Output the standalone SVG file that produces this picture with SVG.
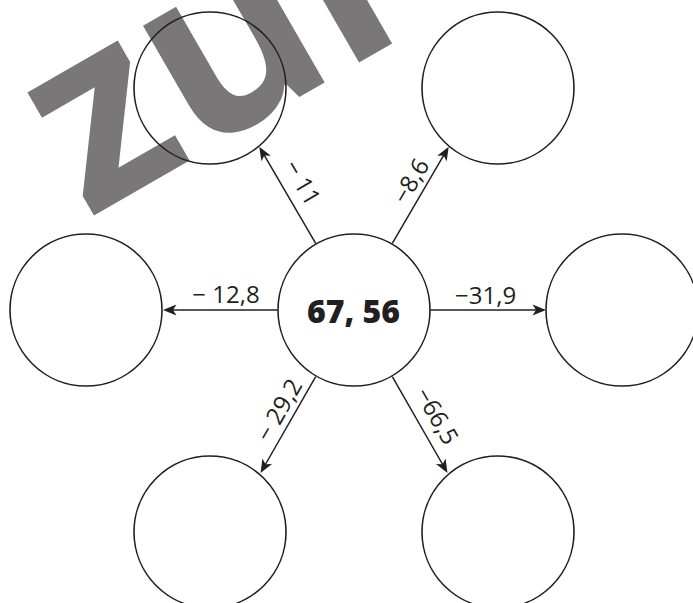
<svg xmlns="http://www.w3.org/2000/svg" width="693" height="603" viewBox="0 0 693 603">
<style>
.node{fill:none;stroke:#231f20;stroke-width:1.6}
.conn{stroke:#231f20;stroke-width:1.5;fill:none;marker-end:url(#ah)}
.lbl{font-family:"Open Sans","Noto Sans",sans-serif;font-size:24px;fill:#231f20;text-anchor:middle}
.big{font-family:"Open Sans","Noto Sans",sans-serif;font-size:32px;font-weight:800;fill:#231f20;text-anchor:middle}
.wm{font-family:"Open Sans","Noto Sans",sans-serif;font-size:256px;font-weight:700;fill:#797778}
</style>
<defs>
<marker id="ah" markerUnits="userSpaceOnUse" viewBox="-10 -6 15 12" markerWidth="15" markerHeight="12" refX="0" refY="0" orient="auto" overflow="visible">
<path d="M4,0 L-9.5,-5.5 L-6,0 L-9.5,5.5 Z" fill="#231f20"/>
</marker>
</defs>
<rect width="693" height="603" fill="#ffffff"/>
<g id="watermark">
<text class="wm" transform="translate(88,219) rotate(-30)">zur</text>
</g>
<g id="connectors">
<line class="conn" x1="315.7" y1="243.3" x2="261.3" y2="150.2"/>
<line class="conn" x1="392.3" y1="243.3" x2="446.7" y2="150.2"/>
<line class="conn" x1="277.7" y1="310" x2="167" y2="310"/>
<line class="conn" x1="430.3" y1="310" x2="542" y2="310"/>
<line class="conn" x1="315.7" y1="376.7" x2="262.5" y2="469.5"/>
<line class="conn" x1="392.3" y1="376.7" x2="445.5" y2="469.5"/>
<text class="lbl" transform="translate(302.5,182.5) rotate(59.7)" y="8.5">− 11</text>
<text class="lbl" transform="translate(410.8,181) rotate(-59.7)" y="8.5">−8,6</text>
<text class="lbl" x="226" y="303">− 12,8</text>
<text class="lbl" x="485.6" y="304">−31,9</text>
<text class="lbl" transform="translate(279,410) rotate(-60)" y="8.5">− 29,2</text>
<text class="lbl" transform="translate(437,416) rotate(60)" y="8.5">−66,5</text>
</g>
<g id="center"><circle class="node" cx="354" cy="310" r="76"/><text class="big" x="353.5" y="323">67, 56</text></g>
<g id="top-left"><circle class="node" cx="210" cy="88" r="76"/></g>
<g id="top-right"><circle class="node" cx="498" cy="88" r="76"/></g>
<g id="left"><circle class="node" cx="86" cy="310" r="76"/></g>
<g id="right"><circle class="node" cx="622" cy="310" r="76"/></g>
<g id="bottom-left"><circle class="node" cx="210" cy="532" r="76"/></g>
<g id="bottom-right"><circle class="node" cx="498" cy="532" r="76"/></g>
</svg>
